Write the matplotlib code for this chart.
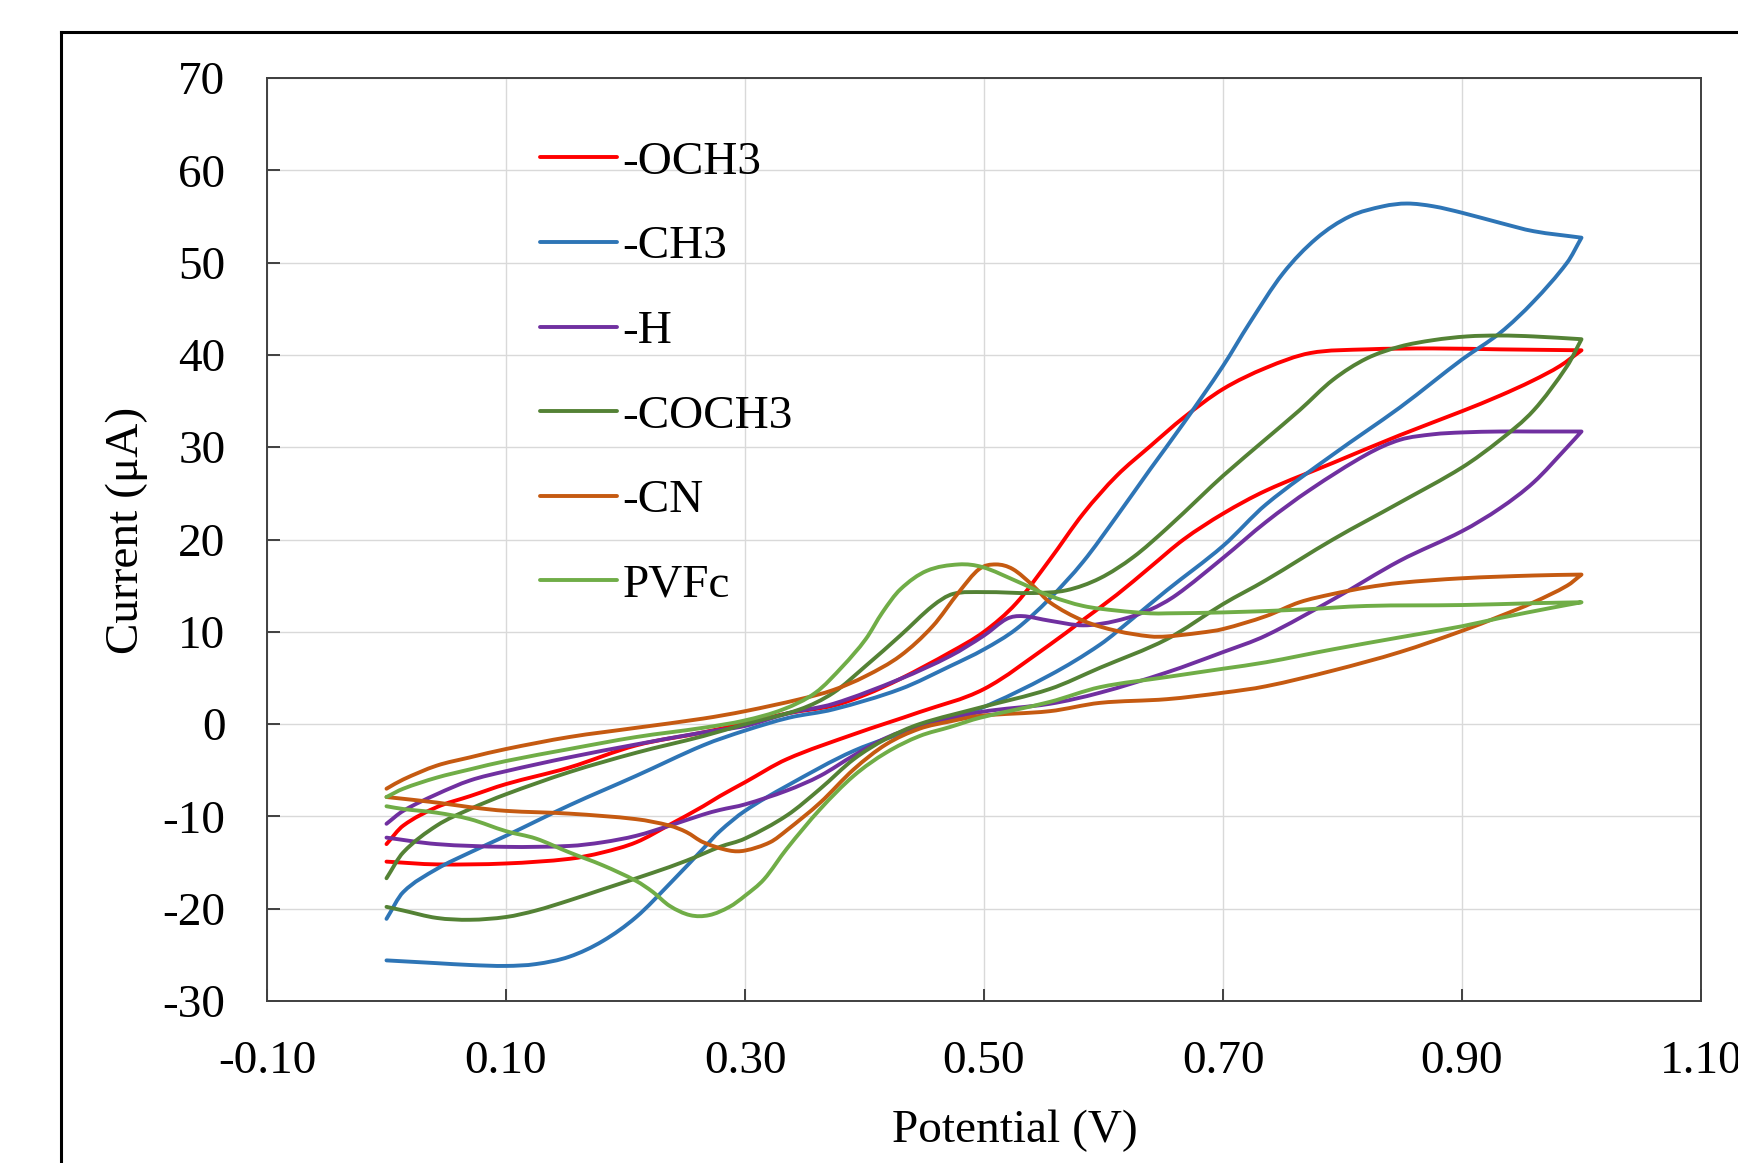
import matplotlib
matplotlib.use("Agg")
import numpy as np
import matplotlib.pyplot as plt
from matplotlib.lines import Line2D
from matplotlib.path import Path
from matplotlib.patches import PathPatch
from matplotlib.ticker import FuncFormatter

plt.rcParams['font.family'] = ['Liberation Serif', 'DejaVu Serif']
plt.rcParams['axes.unicode_minus'] = False

series_names = ["-OCH3", "-CH3", "-H", "-COCH3", "-CN", "PVFc"]
series_colors = ["#FF0000", "#2E75B6", "#7030A0", "#548235", "#C55A11", "#70AD47"]

# -OCH3 (forward scan 0 -> 1.0 V, then reverse scan back to 0 V)
och3_x = [0, 0.014, 0.042, 0.07, 0.1, 0.153, 0.209, 0.265, 0.3, 0.337, 0.374, 0.401, 0.43, 0.472, 0.5,
          0.527, 0.555, 0.583, 0.611, 0.639, 0.667, 0.7, 0.736, 0.773, 0.82, 0.876, 0.932, 1.0,
          0.982, 0.959, 0.932, 0.9, 0.848, 0.792, 0.736, 0.7, 0.667, 0.639, 0.611, 0.583, 0.555, 0.5,
          0.446, 0.391, 0.335, 0.3, 0.279, 0.265, 0.237, 0.209, 0.181, 0.153, 0.1, 0.042, 0]
och3_y = [-13.0, -11.0, -9.0, -7.8, -6.5, -4.7, -2.3, -0.9, 0.1, 1.2, 2.0, 3.2, 4.9, 7.8, 10.0,
          13.1, 17.8, 22.8, 26.9, 30.1, 33.2, 36.3, 38.6, 40.2, 40.6, 40.7, 40.6, 40.5,
          38.8, 37.2, 35.6, 33.9, 31.3, 28.3, 25.3, 22.8, 20.0, 17.0, 14.0, 11.3, 8.6, 3.8,
          1.3, -1.1, -3.8, -6.3, -7.8, -8.9, -10.9, -12.8, -13.9, -14.6, -15.1, -15.2, -14.9]

# -CH3
ch3_x = [0, 0.014, 0.042, 0.07, 0.1, 0.153, 0.209, 0.265, 0.3, 0.337, 0.374, 0.43, 0.472, 0.5, 0.527,
         0.555, 0.583, 0.611, 0.639, 0.667, 0.7, 0.722, 0.75, 0.778, 0.806, 0.834, 0.854, 0.876, 0.9,
         0.932, 0.96, 1.0,
         0.988, 0.96, 0.932, 0.9, 0.876, 0.848, 0.792, 0.736, 0.7, 0.653, 0.625, 0.597, 0.555, 0.497,
         0.446, 0.391, 0.335, 0.3, 0.279, 0.265, 0.237, 0.209, 0.181, 0.153, 0.125, 0.1, 0.07,
         0.042, 0]
ch3_y = [-21.1, -18.2, -15.7, -13.9, -12.1, -8.8, -5.6, -2.3, -0.7, 0.7, 1.6, 3.8, 6.3, 8.1, 10.3,
         13.6, 17.6, 22.5, 27.6, 32.6, 38.8, 43.4, 48.8, 52.6, 55.0, 56.1, 56.4, 56.1, 55.4,
         54.3, 53.4, 52.7,
         50.0, 45.8, 42.4, 39.5, 37.1, 34.3, 29.2, 23.8, 19.3, 14.5, 11.5, 8.6, 5.3, 1.7,
         -0.4, -2.9, -6.7, -9.4, -11.6, -13.5, -17.3, -20.9, -23.5, -25.2, -26.0, -26.2, -26.1,
         -25.9, -25.6]

# -H
h_x = [0, 0.014, 0.042, 0.07, 0.1, 0.153, 0.209, 0.265, 0.3, 0.337, 0.374, 0.43, 0.472, 0.5, 0.519,
       0.532, 0.555, 0.583, 0.611, 0.639, 0.661, 0.7, 0.736, 0.773, 0.82, 0.848, 0.876, 0.9, 0.932,
       0.96, 1.0,
       0.988, 0.96, 0.932, 0.9, 0.848, 0.792, 0.736, 0.7, 0.653, 0.597, 0.555, 0.497, 0.446, 0.418,
       0.391, 0.363, 0.335, 0.3, 0.279, 0.265, 0.237, 0.209, 0.181, 0.153, 0.1, 0.042, 0]
h_y = [-10.8, -9.4, -7.6, -6.1, -5.1, -3.6, -2.2, -0.9, -0.2, 1.2, 2.2, 4.9, 7.4, 9.6, 11.4,
       11.7, 11.2, 10.7, 11.2, 12.4, 14.0, 18.0, 21.9, 25.4, 29.2, 30.8, 31.4, 31.6, 31.7,
       31.7, 31.7,
       30.0, 26.2, 23.4, 20.9, 17.7, 13.5, 9.6, 7.8, 5.6, 3.4, 2.2, 1.3, -0.2, -1.5,
       -3.4, -5.6, -7.2, -8.7, -9.3, -9.8, -11.0, -12.1, -12.8, -13.2, -13.3, -13.0, -12.3]

# -COCH3
coch3_x = [0, 0.014, 0.042, 0.07, 0.1, 0.153, 0.209, 0.265, 0.3, 0.346, 0.374, 0.401, 0.43, 0.457,
           0.474, 0.5, 0.541, 0.569, 0.597, 0.625, 0.653, 0.681, 0.7, 0.736, 0.764, 0.792, 0.82,
           0.848, 0.876, 0.904, 0.932, 0.96, 1.0,
           0.988, 0.96, 0.932, 0.9, 0.848, 0.792, 0.736, 0.7, 0.653, 0.597, 0.555, 0.497, 0.446,
           0.418, 0.391, 0.363, 0.335, 0.3, 0.279, 0.251, 0.223, 0.181, 0.153, 0.125, 0.1, 0.07,
           0.042, 0.014, 0]
coch3_y = [-16.7, -13.9, -11.0, -9.2, -7.6, -5.2, -3.1, -1.3, 0.0, 1.6, 3.4, 6.3, 9.6, 12.8,
           14.1, 14.3, 14.2, 14.5, 15.8, 18.1, 21.2, 24.6, 26.9, 30.9, 34.0, 37.3, 39.6,
           40.9, 41.6, 42.0, 42.1, 42.0, 41.7,
           38.8, 34.0, 30.8, 27.8, 24.0, 20.0, 15.6, 13.0, 9.2, 6.1, 3.8, 1.8, 0.0,
           -1.6, -3.8, -7.0, -9.9, -12.4, -13.3, -14.8, -16.1, -17.9, -19.1, -20.2, -20.9, -21.2,
           -21.0, -20.2, -19.8]

# -CN
cn_x = [0, 0.014, 0.042, 0.07, 0.1, 0.153, 0.209, 0.265, 0.3, 0.346, 0.374, 0.401, 0.43, 0.457,
        0.479, 0.496, 0.51, 0.524, 0.541, 0.555, 0.583, 0.611, 0.639, 0.653, 0.681, 0.7, 0.736,
        0.764, 0.792, 0.82, 0.848, 0.9, 0.96, 1.0,
        0.988, 0.96, 0.932, 0.9, 0.848, 0.792, 0.736, 0.7, 0.653, 0.597, 0.555, 0.497, 0.472, 0.446,
        0.418, 0.391, 0.363, 0.335, 0.321, 0.3, 0.287, 0.265, 0.251, 0.237, 0.209, 0.153, 0.1,
        0.07, 0.042, 0]
cn_y = [-7.0, -6.0, -4.5, -3.6, -2.7, -1.4, -0.4, 0.6, 1.4, 2.7, 3.7, 5.2, 7.4, 10.6,
        14.3, 16.8, 17.3, 16.8, 15.0, 13.2, 11.2, 10.1, 9.5, 9.5, 9.9, 10.3, 11.7,
        13.2, 14.1, 14.8, 15.3, 15.8, 16.1, 16.2,
        15.0, 13.2, 11.7, 10.1, 7.8, 5.8, 4.1, 3.4, 2.7, 2.3, 1.4, 0.9, 0.3, -0.5,
        -2.2, -4.9, -8.5, -11.5, -12.8, -13.7, -13.7, -12.8, -11.7, -11.0, -10.3, -9.7, -9.4,
        -9.0, -8.5, -7.9]

# PVFc
pvfc_x = [0, 0.014, 0.042, 0.07, 0.1, 0.153, 0.209, 0.265, 0.3, 0.332, 0.359, 0.382, 0.401, 0.415,
          0.43, 0.452, 0.479, 0.499, 0.527, 0.555, 0.583, 0.611, 0.639, 0.653, 0.7, 0.764, 0.82,
          0.9, 0.96, 1.0,
          0.975, 0.932, 0.9, 0.848, 0.792, 0.736, 0.7, 0.653, 0.597, 0.555, 0.497, 0.472, 0.446,
          0.418, 0.391, 0.363, 0.335, 0.316, 0.3, 0.287, 0.27, 0.254, 0.237, 0.223, 0.209, 0.181,
          0.153, 0.125, 0.1, 0.07, 0.042, 0.014, 0]
pvfc_y = [-7.9, -7.0, -5.8, -4.9, -4.0, -2.7, -1.4, -0.4, 0.4, 1.6, 3.4, 6.3, 9.2, 12.1,
          14.6, 16.6, 17.3, 17.0, 15.5, 13.9, 12.8, 12.3, 12.0, 12.0, 12.1, 12.4, 12.8,
          12.9, 13.1, 13.2,
          12.6, 11.5, 10.6, 9.4, 8.1, 6.7, 6.0, 5.1, 4.0, 2.4, 0.7, -0.3, -1.3,
          -3.1, -5.6, -9.2, -13.5, -16.8, -18.6, -19.8, -20.7, -20.7, -19.7, -18.2, -17.0, -15.3,
          -13.9, -12.4, -11.6, -10.3, -9.6, -9.2, -8.9]

x_ticks = [-0.10, 0.10, 0.30, 0.50, 0.70, 0.90, 1.10]
y_ticks = [-30, -20, -10, 0, 10, 20, 30, 40, 50, 60, 70]

xs = [och3_x, ch3_x, h_x, coch3_x, cn_x, pvfc_x]
ys = [och3_y, ch3_y, h_y, coch3_y, cn_y, pvfc_y]


def smoothed_path(x, y, sx=11950.0, sy=9.24):
    """Smoothed line through the data points (spreadsheet-style 'smoothed line'),
    keeping the sharp turn at the switching potential."""
    pts = np.column_stack([x, y]).astype(float)
    scale = np.array([sx, sy])
    k = int(np.argmax(pts[:, 0]))
    verts = [pts[0]]
    codes = [Path.MOVETO]
    for br in (pts[:k + 1], pts[k:]):
        n = len(br)
        for i in range(n - 1):
            p0 = br[i - 1] if i > 0 else br[i]
            p1 = br[i]
            p2 = br[i + 1]
            p3 = br[i + 2] if i + 2 < n else br[i + 1]
            d01 = np.linalg.norm((p1 - p0) * scale)
            d12 = np.linalg.norm((p2 - p1) * scale)
            d23 = np.linalg.norm((p3 - p2) * scale)
            f1 = d12 / (d01 + d12) if d01 + d12 > 0 else 0.5
            f2 = d12 / (d12 + d23) if d12 + d23 > 0 else 0.5
            verts += [p1 + (p2 - p0) * f1 / 3.0, p2 - (p3 - p1) * f2 / 3.0, p2]
            codes += [Path.CURVE4] * 3
    return Path(verts, codes)


W, H = 1738, 1163
fig = plt.figure(figsize=(W / 100, H / 100), dpi=100)
ax = fig.add_axes([267 / W, 1 - 1001 / H, (1701 - 267) / W, (1001 - 78) / H])

LW = 2.8
handles = []
for x, y, name, c in zip(xs, ys, series_names, series_colors):
    patch = PathPatch(smoothed_path(x, y), facecolor='none', edgecolor=c, lw=LW,
                      joinstyle='round', capstyle='round', transform=ax.transData)
    ax.add_patch(patch)
    handles.append(Line2D([], [], color=c, lw=LW, solid_capstyle='round', label=name))

ax.set_xlim(-0.1, 1.1)
ax.set_ylim(-30, 70)
ax.set_xticks(x_ticks)
ax.set_yticks(y_ticks)
ax.xaxis.set_major_formatter(FuncFormatter(lambda v, p: f"{v:.2f}"))
ax.yaxis.set_major_formatter(FuncFormatter(lambda v, p: f"{v:.0f}"))
ax.grid(True, color="#D9D9D9", lw=1.0)
ax.set_axisbelow(True)
for s in ax.spines.values():
    s.set_color("#404040")
    s.set_linewidth(1.4)
ax.tick_params(axis='both', direction='in', length=9, width=1.4, color="#404040",
               labelsize=34, colors='black')
ax.tick_params(axis='y', pad=30)
ax.tick_params(axis='x', pad=28.5)

fig.text(127 / W, 1 - 530 / H, "Current (μA)", rotation=90, ha='center', va='center', fontsize=34)
fig.text(1015 / W, 1 - 1131 / H, "Potential (V)", ha='center', va='center', fontsize=34)

ax.legend(handles=handles, loc='upper left', bbox_to_anchor=(0.1904, 0.932), frameon=False,
          fontsize=34, borderpad=0, borderaxespad=0, handlelength=1.63, handletextpad=0.12,
          labelspacing=0.88)

# outer chart-area border
fig.add_artist(Line2D([61 / W, 61 / W], [0, 1 - 32 / H], transform=fig.transFigure,
                      color='black', lw=2.2))
fig.add_artist(Line2D([61 / W, 1], [1 - 32 / H, 1 - 32 / H], transform=fig.transFigure,
                      color='black', lw=2.2))

fig.savefig("out.png", dpi=100)
